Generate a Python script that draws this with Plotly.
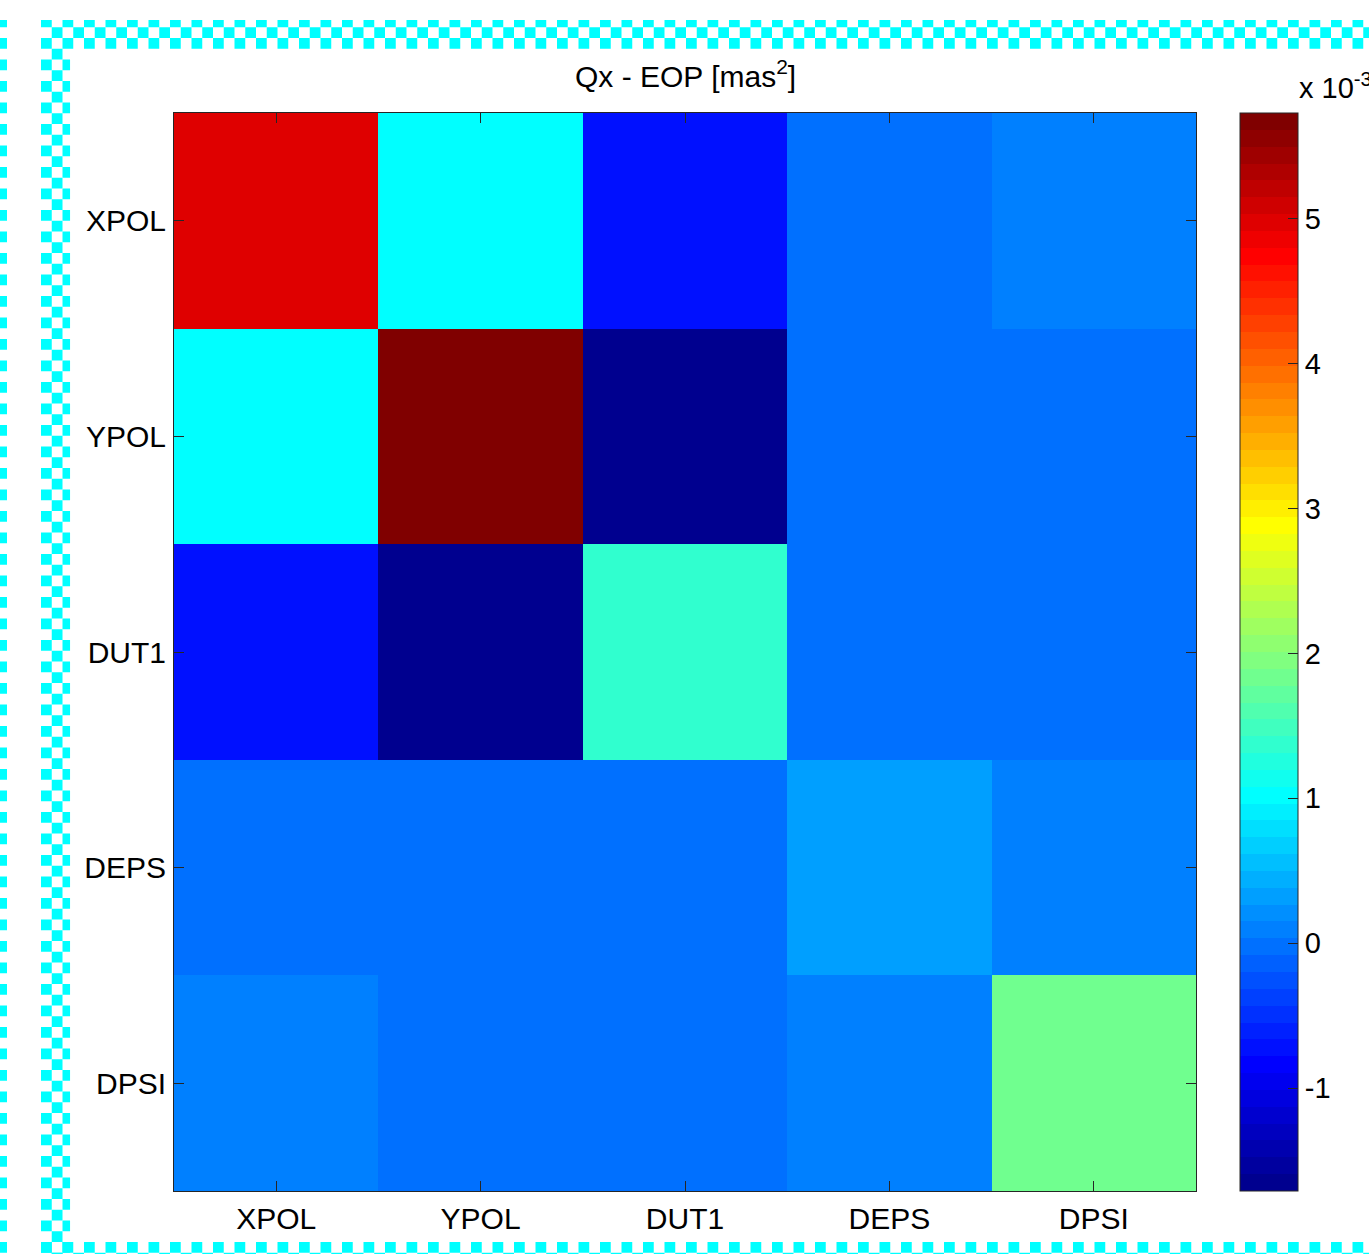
import plotly.graph_objects as go

# ---------------- data ----------------
labels = ["XPOL", "YPOL", "DUT1", "DEPS", "DPSI"]
# covariance values (units: mas^2)
row_xpol = [4.97e-3, 1.02e-3, -0.72e-3, 0.00e-3, 0.09e-3]
row_ypol = [1.02e-3, 5.73e-3, -1.71e-3, 0.00e-3, 0.00e-3]
row_dut1 = [-0.72e-3, -1.71e-3, 1.37e-3, 0.00e-3, 0.00e-3]
row_deps = [0.00e-3, 0.00e-3, 0.00e-3, 0.32e-3, 0.06e-3]
row_dpsi = [0.09e-3, 0.00e-3, 0.00e-3, 0.06e-3, 1.84e-3]
z = [row_xpol, row_ypol, row_dut1, row_deps, row_dpsi]

cbar_tickvals = [-1e-3, 0, 1e-3, 2e-3, 3e-3, 4e-3, 5e-3]
cbar_ticktext = ["-1", "0", "1", "2", "3", "4", "5"]

# ---------------- MATLAB jet(64) discrete colorscale ----------------
def jet(n=64):
    m = n // 4
    u = [k / m for k in range(1, m + 1)] + [1.0] * (m - 1) + [k / m for k in range(m, 0, -1)]
    g0 = (m + 1) // 2 - (1 if n % 4 == 1 else 0)
    r = [0.0] * n
    g = [0.0] * n
    b = [0.0] * n
    for j, val in enumerate(u):
        gi = g0 + j + 1          # 1-based
        ri = gi + m
        bi = gi - m
        if 1 <= gi <= n:
            g[gi - 1] = val
        if 1 <= ri <= n:
            r[ri - 1] = val
        if 1 <= bi <= n:
            b[bi - 1] = val
    return ["rgb(%d,%d,%d)" % (round(r[i] * 255), round(g[i] * 255), round(b[i] * 255))
            for i in range(n)]

jc = jet(64)
colorscale = []
for i, c in enumerate(jc):
    colorscale.append([i / 64, c])
    colorscale.append([(i + 1) / 64, c])

zmin = min(min(r) for r in z)
zmax = max(max(r) for r in z)

# ---------------- layout geometry (pixels) ----------------
W, H = 1369, 1254
L, R, T, B = 174, 1196, 113, 1191
PW, PH = R - L, B - T

def px2x(px):
    return (px - L) / PW

def py2y(py):
    return (B - py) / PH

FONT = "Arial, Liberation Sans, sans-serif"

fig = go.Figure()
fig.add_trace(go.Heatmap(
    z=z, x=labels, y=labels,
    colorscale=colorscale, zmin=zmin, zmax=zmax,
    colorbar=dict(
        x=px2x(1240), xanchor="left", xref="paper",
        y=0.5, yanchor="middle", len=1, lenmode="fraction",
        thickness=58, thicknessmode="pixels",
        xpad=0, ypad=0,
        outlinecolor="#262626", outlinewidth=1,
        tickvals=cbar_tickvals, ticktext=cbar_ticktext,
        ticks="inside", ticklen=10, tickcolor="#262626", tickwidth=1,
        tickprefix="\u2009",
        tickfont=dict(family=FONT, size=29, color="black"),
    ),
    hoverongaps=False,
))

axis_common = dict(
    showline=True, linecolor="#262626", linewidth=1, mirror="ticks",
    ticks="inside", ticklen=10, tickcolor="#262626", tickwidth=1,
    tickfont=dict(family=FONT, size=30, color="black"),
    showgrid=False, zeroline=False,
)
fig.update_xaxes(**axis_common, ticklabelstandoff=1)
fig.update_yaxes(**axis_common, autorange="reversed", ticklabelstandoff=1)

shapes = []
# left-side colorbar ticks
for v in cbar_tickvals:
    yy = (v - zmin) / (zmax - zmin)
    shapes.append(dict(type="line", xref="paper", yref="paper",
                       x0=px2x(1240), x1=px2x(1250), y0=yy, y1=yy,
                       line=dict(color="#262626", width=1)))

# checkered cyan border decoration
s = 10.75
dash = "%gpx,%gpx" % (s, s)
cy = "#00FFFF"
X0, Y0 = 41, 16.5

def hline(py, width, xstart, xend=1380):
    shapes.append(dict(type="line", xref="paper", yref="paper",
                       x0=px2x(xstart), x1=px2x(xend), y0=py2y(py), y1=py2y(py),
                       line=dict(color=cy, width=width, dash=dash)))

def vline(px, width, ystart, yend=1260):
    shapes.append(dict(type="line", xref="paper", yref="paper",
                       x0=px2x(px), x1=px2x(px), y0=py2y(ystart), y1=py2y(yend),
                       line=dict(color=cy, width=width, dash=dash)))

# top band rows
hline(Y0 + s / 2, s, X0)
hline(Y0 + 1.5 * s, s, X0 + s)
hline(Y0 + 2.5 * s, s, X0)
# left band columns
top_l = Y0 + 3 * s
vline(X0 + s / 2, s, top_l + s)
vline(X0 + 1.5 * s, s, top_l)
vline(X0 + 2.5 * s - 1.6, s - 3.2, top_l + s)
# bottom rows
rb = Y0 + 114 * s
hline(rb + s / 2, s, X0)
hline(rb + 1.5 * s, s, X0 + s)
# far-left edge column
vline(3.5, 7, Y0)
# white mask above y=20
shapes.append(dict(type="rect", xref="paper", yref="paper",
                   x0=px2x(-5), x1=px2x(1380), y0=py2y(20), y1=py2y(-5),
                   line=dict(width=0), fillcolor="white"))

fig.update_layout(
    width=W, height=H,
    margin=dict(l=L, r=W - R, t=T, b=H - B, pad=0),
    paper_bgcolor="white", plot_bgcolor="white",
    shapes=shapes,
    annotations=[
        dict(text="Qx - EOP [mas<sup>2</sup>]", xref="paper", yref="paper",
             x=0.5, y=1, xanchor="center", yanchor="bottom", yshift=18,
             showarrow=False, font=dict(family=FONT, size=30, color="black")),
        dict(text="x 10<sup>-3</sup>", xref="paper", yref="paper",
             x=px2x(1297), y=py2y(106), xanchor="left", yanchor="bottom",
             showarrow=False, font=dict(family=FONT, size=29, color="black")),
    ],
)

fig.write_html("out.html",
               config={"displayModeBar": False},
               post_script="document.body.style.margin='0';document.body.style.overflow='hidden';")
